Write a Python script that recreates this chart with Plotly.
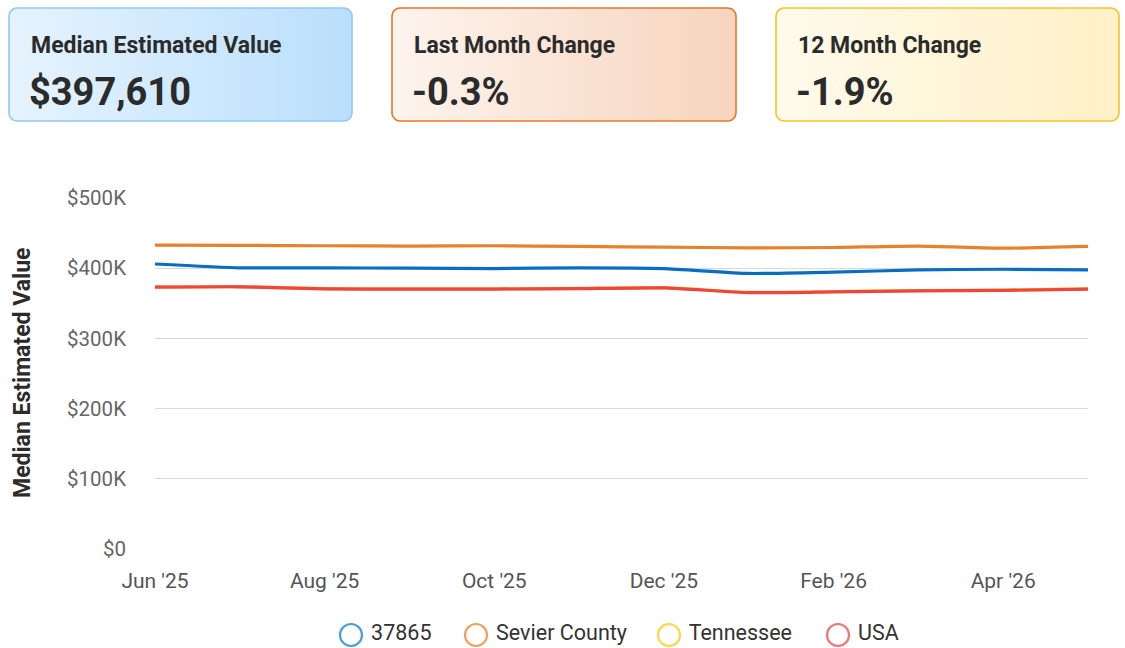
import plotly.graph_objects as go
import numpy as np

# ---- data ----
months = ["Jun '25", "Jul '25", "Aug '25", "Sep '25", "Oct '25", "Nov '25",
          "Dec '25", "Jan '26", "Feb '26", "Mar '26", "Apr '26", "May '26"]
tick_labels = ["Jun '25", "Aug '25", "Oct '25", "Dec '25", "Feb '26", "Apr '26"]
zip_37865 = [406000, 400500, 400500, 400000, 399500, 400500, 399500, 392500, 394500, 397500, 398500, 397610]
sevier = [433000, 432500, 432000, 431500, 432000, 431000, 430000, 429000, 429500, 431500, 428500, 431000]
tennessee = [373500, 373800, 370800, 370600, 370600, 371200, 372300, 365600, 366800, 368200, 368700, 370600]
usa = [373000, 373500, 370500, 370300, 370300, 371000, 372000, 365200, 366300, 367800, 368300, 370200]

series_names = ["37865", "Sevier County", "Tennessee", "USA"]
series_vals = [zip_37865, sevier, tennessee, usa]
line_colors = ["#0A6EC0", "#E6822A", "#F5C518", "#EE4540"]
legend_colors = ["#4A9EDF", "#F0A060", "#FFD54F", "#F07575"]

cards = [
    ("Median Estimated Value", "$397,610"),
    ("Last Month Change", "-0.3%"),
    ("12 Month Change", "-1.9%"),
]

W, H = 1125, 648
fig = go.Figure()

x_idx = list(range(len(months)))
for i in [0, 1, 2, 3]:
    fig.add_trace(go.Scatter(
        x=x_idx, y=series_vals[i], mode="lines", name=series_names[i],
        line=dict(color=line_colors[i], width=3.2, shape="spline", smoothing=0.5),
        showlegend=False, customdata=[months[j] for j in x_idx],
        hovertemplate="%{customdata}: $%{y:,.0f}<extra>" + series_names[i] + "</extra>",
    ))

# ---- custom legend (pixel overlay axes) ----
legend_x = [351, 476, 669, 838]
legend_y = 635
for i in range(4):
    fig.add_trace(go.Scatter(
        x=[legend_x[i]], y=[legend_y], xaxis="x2", yaxis="y2", mode="markers+text",
        text=[" " + series_names[i]], textposition="middle right",
        textfont=dict(family="Roboto", size=21.5, color="#333"),
        marker=dict(symbol="circle-open", size=22, color=legend_colors[i],
                    line=dict(width=2.2, color=legend_colors[i])),
        showlegend=False, hoverinfo="skip", cliponaxis=False,
    ))

# ---- cards (overlay pixel axes) ----
card_boxes = [(9, 8, 352, 121), (392, 8, 736, 121), (776, 8, 1119, 121)]
card_fill = [("#E6F3FE", "#BADFFC"), ("#FDF4EE", "#F7D4BD"), ("#FFFAEC", "#FFF0C6")]
card_border = ["#8EC9F7", "#E8782A", "#F7C325"]


def rounded_rect(x0, y0, x1, y1, r, n=8):
    xs, ys = [], []
    corners = [(x1 - r, y0 + r, -90, 0), (x1 - r, y1 - r, 0, 90),
               (x0 + r, y1 - r, 90, 180), (x0 + r, y0 + r, 180, 270)]
    for cx, cy, a0, a1 in corners:
        for t in np.linspace(np.radians(a0), np.radians(a1), n):
            xs.append(cx + r * np.cos(t))
            ys.append(cy + r * np.sin(t))
    xs.append(xs[0]); ys.append(ys[0])
    return xs, ys


for (x0, y0, x1, y1), (c0, c1), bc in zip(card_boxes, card_fill, card_border):
    xs, ys = rounded_rect(x0, y0, x1, y1, 8)
    fig.add_trace(go.Scatter(
        x=xs, y=ys, xaxis="x2", yaxis="y2", mode="lines", fill="toself",
        fillgradient=dict(type="horizontal", colorscale=[[0, c0], [1, c1]]),
        line=dict(color=bc, width=1.6), showlegend=False, hoverinfo="skip",
    ))

annotations = []
for (x0, y0, x1, y1), (title, val) in zip(card_boxes, cards):
    annotations.append(dict(x=(x0 + 20) / W, y=1 - 46 / H, xref="paper", yref="paper",
                            text="<b>" + title + "</b>", showarrow=False, xanchor="left", yanchor="middle",
                            font=dict(family="Roboto", size=23, color="#2b2b2b")))
    annotations.append(dict(x=(x0 + 18) / W, y=1 - 92 / H, xref="paper", yref="paper",
                            text="<b>" + val + "</b>", showarrow=False, xanchor="left", yanchor="middle",
                            font=dict(family="Roboto", size=38, color="#2b2b2b")))

annotations.append(dict(x=22 / W, y=1 - 373 / H, xref="paper", yref="paper",
                        text="<b>Median Estimated Value</b>", textangle=-90, showarrow=False,
                        xanchor="center", yanchor="middle",
                        font=dict(family="Roboto", size=23, color="#2b2b2b")))

fig.update_layout(
    width=W, height=H, autosize=False,
    margin=dict(l=0, r=0, t=0, b=0, pad=0, autoexpand=False),
    paper_bgcolor="white", plot_bgcolor="rgba(0,0,0,0)",
    font=dict(family="Roboto", color="#333"),
    xaxis=dict(domain=[155 / W, 1088 / W], range=[0, 11], tickmode="array",
               tickvals=[0, 2, 4, 6, 8, 10], ticktext=tick_labels, showgrid=False,
               zeroline=False, showline=False, ticks="", ticklabelstandoff=17,
               tickfont=dict(size=21, color="#555"), anchor="y", fixedrange=True, automargin=False),
    yaxis=dict(domain=[1 - 549 / H, 1 - 198 / H], range=[0, 500000], tickmode="array",
               tickvals=[0, 100000, 200000, 300000, 400000, 500000],
               ticktext=["$0", "$100K", "$200K", "$300K", "$400K", "$500K"],
               showgrid=True, gridcolor="#D9D9D9", gridwidth=1, zeroline=False,
               showline=False, ticks="", ticklabelstandoff=28,
               tickfont=dict(size=20.5, color="#666"), anchor="x", fixedrange=True, automargin=False),
    xaxis2=dict(domain=[0, 1], range=[0, W], visible=False, anchor="y2", fixedrange=True, automargin=False),
    yaxis2=dict(domain=[0, 1], range=[H, 0], visible=False, anchor="x2", fixedrange=True, automargin=False),
    annotations=annotations,
    showlegend=False,
)

fig.write_html("out.html", config={"displayModeBar": False},
               post_script="document.body.style.margin='0';document.body.style.overflow='hidden';")
